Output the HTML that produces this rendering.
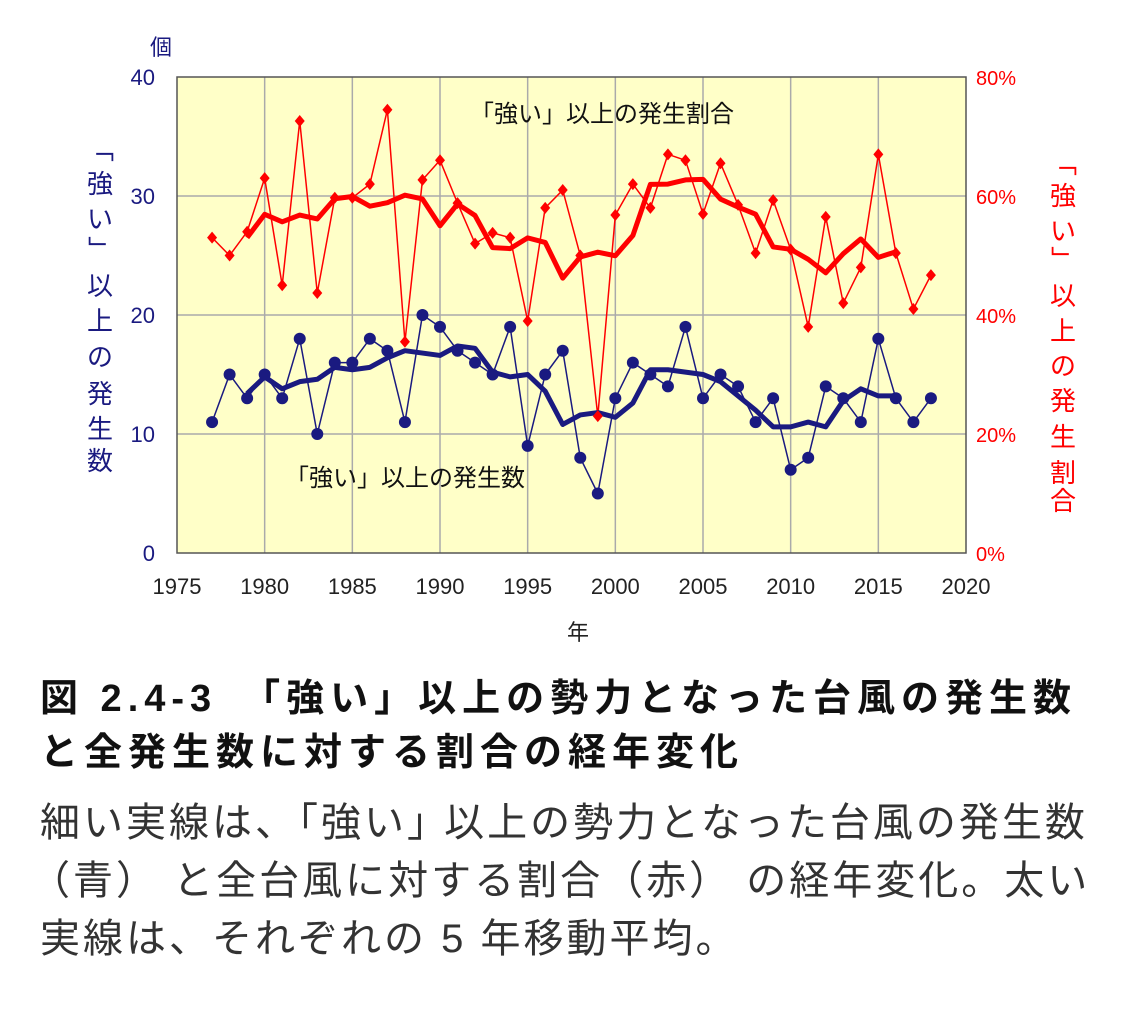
<!DOCTYPE html>
<html><head><meta charset="utf-8">
<style>
body{margin:0;background:#fff;width:1136px;height:1013px;overflow:hidden;font-family:"Liberation Sans","Noto Sans CJK JP",sans-serif}
svg{position:absolute;left:0;top:0}
.t{position:absolute;left:40px;white-space:nowrap;color:#111}
</style></head><body>
<svg id="s" width="1136" height="660" xmlns="http://www.w3.org/2000/svg" font-family="Liberation Sans, Noto Sans CJK JP, sans-serif"></svg>
<div class="t" style="top:667px;font-size:38px;font-weight:bold;letter-spacing:6px">図 2.4-3　「強い」以上の勢力となった台風の発生数</div>
<div class="t" style="top:721px;font-size:38px;font-weight:bold;letter-spacing:6px">と全発生数に対する割合の経年変化</div>
<div class="t" style="top:790px;font-size:40px;color:#333;letter-spacing:3px">細い実線は、｢強い｣ 以上の勢力となった台風の発生数</div>
<div class="t" style="top:848px;font-size:40px;color:#333;left:30px;letter-spacing:3px">（青） と全台風に対する割合（赤） の経年変化。太い</div>
<div class="t" style="top:906px;font-size:40px;color:#333;letter-spacing:3px">実線は、それぞれの 5 年移動平均。</div>
<script>
var L=177,R=966,T=77,B=553;
function X(y){return L+(y-1975)*(R-L)/45}
function YB(v){return B-v*(B-T)/40}
function YR(v){return B-v*(B-T)/80}
var blue=[11,15,13,15,13,18,10,16,16,18,17,11,20,19,17,16,15,19,9,15,17,8,5,13,16,15,14,19,13,15,14,11,13,7,8,14,13,11,18,13,11,13];
var red=[53,50,54,63,45,72.6,43.7,59.7,59.7,62,74.5,35.5,62.7,66,58.8,52,53.8,53,39,58,61,50,23,56.8,62,58,67,66,57,65.5,58.5,50.4,59.3,51,38,56.5,42,48,67,50.4,41,46.7];
var s='<rect x="'+L+'" y="'+T+'" width="'+(R-L)+'" height="'+(B-T)+'" fill="#ffffc8"/>';
for(var y=1980;y<2020;y+=5)s+='<line x1="'+X(y)+'" x2="'+X(y)+'" y1="'+T+'" y2="'+B+'" stroke="#aaa" stroke-width="1.5"/>';
for(var v=10;v<40;v+=10)s+='<line x1="'+L+'" x2="'+R+'" y1="'+YB(v)+'" y2="'+YB(v)+'" stroke="#aaa" stroke-width="1.5"/>';
s+='<rect x="'+L+'" y="'+T+'" width="'+(R-L)+'" height="'+(B-T)+'" fill="none" stroke="#555" stroke-width="1.5"/>';
function ma(a){var r=[];for(var i=2;i<a.length-2;i++){var t=0;for(var j=-2;j<=2;j++)t+=a[i+j];r.push([1977+i,t/5]);}return r}
function pl(pts,col,w){return '<polyline fill="none" stroke="'+col+'" stroke-width="'+w+'" stroke-linejoin="round" points="'+pts.join(' ')+'"/>'}
var bp=blue.map(function(v,i){return X(1977+i)+','+YB(v)});
var rp=red.map(function(v,i){return X(1977+i)+','+YR(v)});
s+=pl(bp,'#1a1a80',1.5);s+=pl(rp,'#f00',1.5);
s+=pl(ma(blue).map(function(p){return X(p[0])+','+YB(p[1])}),'#1a1a80',5);
s+=pl(ma(red).map(function(p){return X(p[0])+','+YR(p[1])}),'#f00',5);
blue.forEach(function(v,i){s+='<circle cx="'+X(1977+i)+'" cy="'+YB(v)+'" r="6" fill="#1a1a80"/>'});
red.forEach(function(v,i){var x=X(1977+i),y=YR(v);s+='<polygon points="'+x+','+(y-6)+' '+(x+5)+','+y+' '+x+','+(y+6)+' '+(x-5)+','+y+'" fill="#f00"/>'});
for(var y=1975;y<=2020;y+=5)s+='<text x="'+X(y)+'" y="594" font-size="22" text-anchor="middle" fill="#222">'+y+'</text>';
for(var v=0;v<=40;v+=10)s+='<text x="'+(L-22)+'" y="'+(YB(v)+8)+'" font-size="22" text-anchor="end" fill="#1a1a80">'+v+'</text>';
for(var v=0;v<=80;v+=20)s+='<text x="'+(R+10)+'" y="'+(YR(v)+8)+'" font-size="20" fill="#f00">'+v+'%</text>';
s+='<text x="150" y="55" font-size="22" fill="#1a1a80">個</text>';
s+='<text x="578" y="640" font-size="22" text-anchor="middle" fill="#222">年</text>';
s+='<text x="470" y="122" font-size="24" fill="#111">「強い」以上の発生割合</text>';
s+='<text x="285" y="486" font-size="24" fill="#111">「強い」以上の発生数</text>';
var lv=['「','強','い','」','以','上','の','発','生','数'];var ly=[158,193,228,258,295,330,366,403,438,470];
lv.forEach(function(c,i){s+='<text x="100" y="'+ly[i]+'" font-size="26" text-anchor="middle" fill="#1a1a80"'+(i==0||i==3?' transform="rotate(90 100 '+(ly[i]-9)+')"':'')+'>'+c+'</text>'});
var rv=['「','強','い','」','以','上','の','発','生','割','合'];var ry=[172,205,240,268,305,340,375,410,446,482,510];
rv.forEach(function(c,i){s+='<text x="1063" y="'+ry[i]+'" font-size="26" text-anchor="middle" fill="#f00"'+(i==0||i==3?' transform="rotate(90 1063 '+(ry[i]-9)+')"':'')+'>'+c+'</text>'});
document.getElementById('s').innerHTML=s;
</script>
</body></html>
